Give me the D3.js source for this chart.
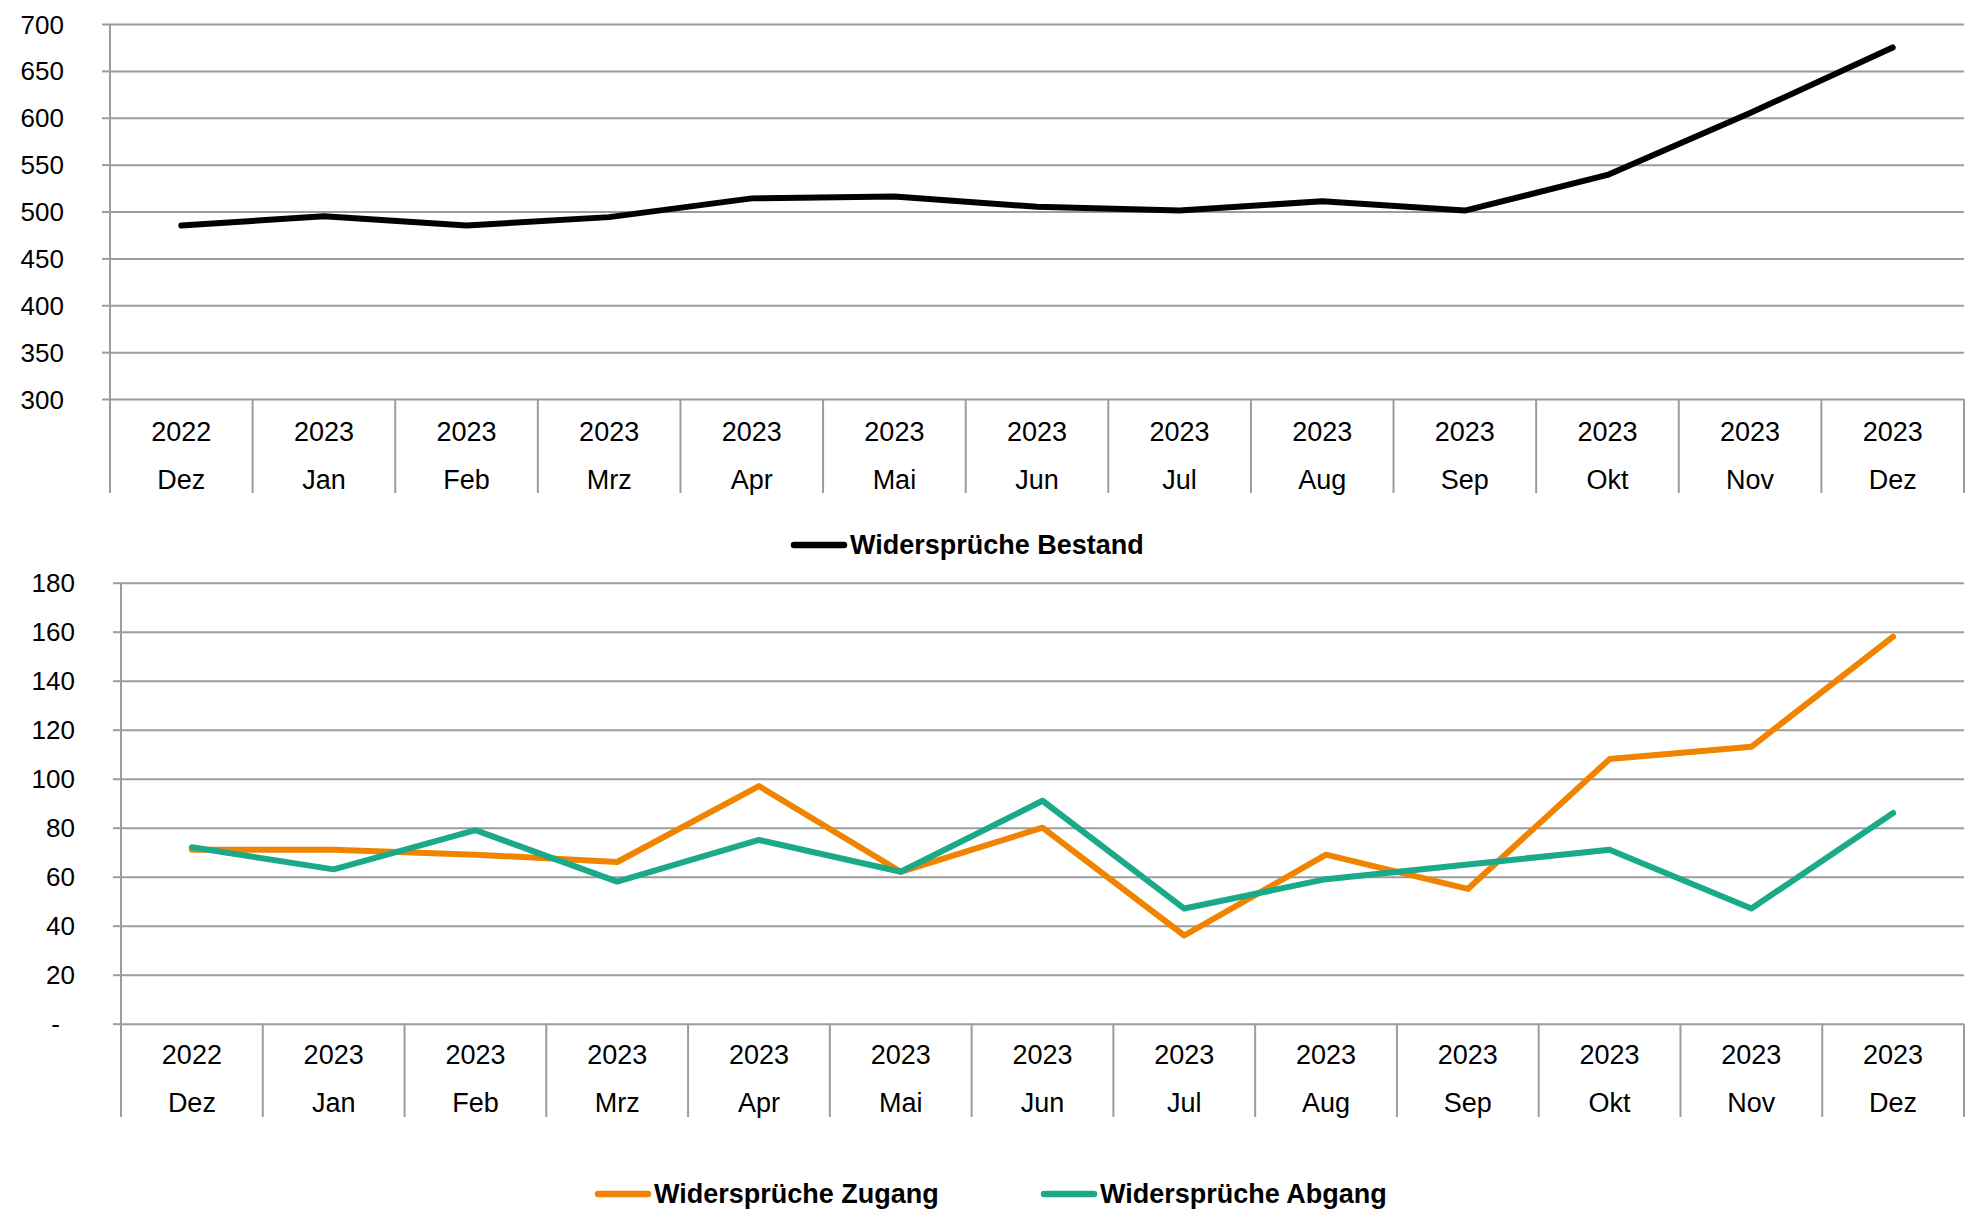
<!DOCTYPE html>
<html>
<head>
<meta charset="utf-8">
<script src="https://cdn.jsdelivr.net/npm/d3@7"></script>
<style>
  body { margin: 0; background: #fff; }
  text { font-family: "Liberation Sans", Arial, sans-serif; fill: #000; }
</style>
</head>
<body>
<script>
var width = 1968,
    height = 1218;

var months = ["Dez", "Jan", "Feb", "Mrz", "Apr", "Mai", "Jun", "Jul", "Aug", "Sep", "Okt", "Nov", "Dez"];
var years = ["2022", "2023", "2023", "2023", "2023", "2023", "2023", "2023", "2023", "2023", "2023", "2023", "2023"];
var bestand = [485, 495, 485, 494, 514, 516, 505, 501, 511, 501, 539, 605, 675];
var zugang = [71, 71, 69, 66, 97, 62, 80, 36, 69, 55, 108, 113, 158];
var abgang = [72, 63, 79, 58, 75, 62, 91, 47, 59, 65, 71, 47, 86];
var topTicks = [300, 350, 400, 450, 500, 550, 600, 650, 700];
var bottomTicks = [0, 20, 40, 60, 80, 100, 120, 140, 160, 180];

var grid = "#9c9c9c";
var keys = d3.range(months.length);

var svg = d3.select("body").append("svg")
    .attr("width", width)
    .attr("height", height);

function panel(o) {
  var x = d3.scaleBand().domain(keys).range([o.left, o.right]);
  var y = d3.scaleLinear().domain(o.domain).range([o.bottom, o.top]);
  var g = svg.append("g");

  // horizontal gridlines + y labels
  var ya = g.append("g")
      .attr("transform", "translate(" + o.left + ",0)")
      .call(d3.axisLeft(y).tickValues(o.ticks).tickSize(8).tickPadding(0).tickFormat(o.fmt));
  ya.select(".domain").remove();
  ya.selectAll(".tick line").attr("stroke", grid).attr("stroke-width", 2);
  ya.selectAll(".tick").append("line")
      .attr("x2", o.right - o.left)
      .attr("stroke", grid).attr("stroke-width", 2);
  ya.selectAll(".tick text")
      .attr("x", o.labelX - o.left)
      .attr("dy", "0.35em")
      .attr("dx", function(d) { return d === 0 ? -15 : 0; })
      .style("font-size", "26px")
      .style("font-family", "'Liberation Sans', Arial, sans-serif")
      .attr("fill", "#000");

  // left axis line
  g.append("line")
      .attr("x1", o.left).attr("x2", o.left)
      .attr("y1", o.top).attr("y2", o.sepBottom)
      .attr("stroke", grid).attr("stroke-width", 2);

  // category separators
  var edges = keys.map(function(k) { return x(k); }).concat([o.right]);
  g.selectAll(".sep").data(edges.slice(1)).enter().append("line")
      .attr("x1", function(d) { return d; }).attr("x2", function(d) { return d; })
      .attr("y1", o.bottom).attr("y2", o.sepBottom)
      .attr("stroke", grid).attr("stroke-width", 2);

  g.selectAll(".yr").data(keys).enter().append("text")
      .attr("x", function(k) { return x(k) + x.bandwidth() / 2; })
      .attr("y", o.yearY).attr("dy", "0.35em")
      .attr("text-anchor", "middle")
      .style("font-size", "27px")
      .text(function(k) { return years[k]; });

  g.selectAll(".mo").data(keys).enter().append("text")
      .attr("x", function(k) { return x(k) + x.bandwidth() / 2; })
      .attr("y", o.monthY).attr("dy", "0.35em")
      .attr("text-anchor", "middle")
      .style("font-size", "27px")
      .text(function(k) { return months[k]; });

  o.series.forEach(function(s) {
    var line = d3.line()
        .x(function(d, i) { return x(i) + x.bandwidth() / 2; })
        .y(function(d) { return y(d); });
    g.append("path")
        .datum(s.values)
        .attr("d", line)
        .attr("fill", "none")
        .attr("stroke", s.color)
        .attr("stroke-width", 6)
        .attr("stroke-linejoin", "round")
        .attr("stroke-linecap", "round");
  });

  o.legend.forEach(function(l) {
    g.append("line")
        .attr("x1", l.x).attr("x2", l.x + 50)
        .attr("y1", l.y).attr("y2", l.y)
        .attr("stroke", l.color).attr("stroke-width", 6.5)
        .attr("stroke-linecap", "round");
    g.append("text")
        .attr("x", l.x + 56).attr("y", l.y).attr("dy", "0.35em")
        .style("font-size", "27px")
        .style("font-weight", "bold")
        .text(l.label);
  });
}

panel({
  left: 110, right: 1964, top: 24, bottom: 399, sepBottom: 493,
  labelX: 64, yearY: 432, monthY: 480,
  domain: [300, 700], ticks: topTicks, fmt: d3.format("d"),
  series: [{ values: bestand, color: "#000" }],
  legend: [{ x: 794, y: 545, color: "#000", label: "Widersprüche Bestand" }]
});

panel({
  left: 121, right: 1964, top: 582.7, bottom: 1023.7, sepBottom: 1117,
  labelX: 75, yearY: 1055, monthY: 1103,
  domain: [0, 180], ticks: bottomTicks,
  fmt: function(d) { return d === 0 ? "-" : d; },
  series: [{ values: zugang, color: "#f08300" }, { values: abgang, color: "#1aaa8a" }],
  legend: [
    { x: 598, y: 1194, color: "#f08300", label: "Widersprüche Zugang" },
    { x: 1044, y: 1194, color: "#1aaa8a", label: "Widersprüche Abgang" }
  ]
});
</script>
</body>
</html>
